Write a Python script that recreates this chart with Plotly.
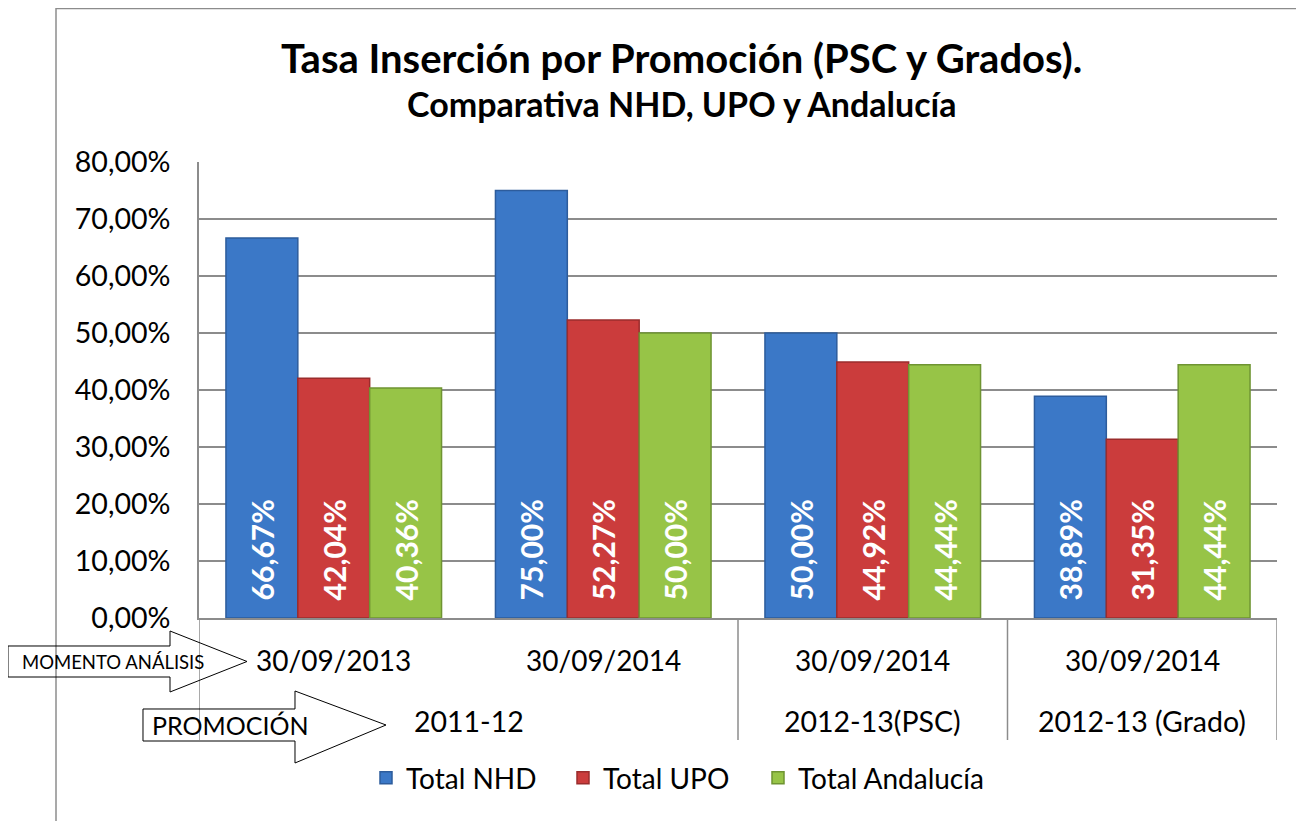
import plotly.graph_objects as go

# ---------------------------------------------------------------
# DATA
# ---------------------------------------------------------------
momento = ["30/09/2013", "30/09/2014", "30/09/2014", "30/09/2014"]
promocion = ["2011-12", "2012-13(PSC)", "2012-13 (Grado)"]
promocion_span = [(0, 1), (2, 2), (3, 3)]  # first/last category index

total_nhd = [0.6667, 0.7500, 0.5000, 0.3889]
total_upo = [0.4204, 0.5227, 0.4492, 0.3135]
total_andalucia = [0.4036, 0.5000, 0.4444, 0.4444]

series_names = ["Total NHD", "Total UPO", "Total Andalucía"]
series_colors = ["#3B78C7", "#CB3C3C", "#97C447"]
series_edges = ["#2D5C9C", "#9A2C2C", "#6F9432"]

# ---------------------------------------------------------------
# LAYOUT HELPERS
# page body has an 8px margin, so target pixels are shifted by 8
# ---------------------------------------------------------------
OFF = 8
W, H = 1304 - OFF, 821 - OFF
PL, PR, PT, PB = 199 - OFF, 1277 - OFF, 162 - OFF, 618 - OFF


def fx(x):
    # target page pixel -> paper x
    return (x - OFF - PL) / (PR - PL)


def fy(y):
    # target page pixel -> paper y
    return (PB - (y - OFF)) / (PB - PT)


FONT = "Lato, 'Open Sans', sans-serif"

cats = list(range(len(momento)))
legend_ids = ["legend", "legend2", "legend3"]
legend_left = [358, 555, 750]  # figure px of each legend box

fig = go.Figure()

for name, vals, col, edge, lg in zip(
    series_names,
    [total_nhd, total_upo, total_andalucia],
    series_colors,
    series_edges,
    legend_ids,
):
    fig.add_trace(
        go.Bar(
            x=cats,
            y=vals,
            name=name,
            legend=lg,
            marker=dict(color=col, line=dict(color=edge, width=1.5)),
            texttemplate="\u00a0\u00a0%{y:.2%}",
            textposition="inside",
            insidetextanchor="start",
            textangle=-90,
            constraintext="none",
            textfont=dict(family=FONT, size=30, color="white", weight="bold"),
        )
    )

# ---------------------------------------------------------------
# SHAPES: frame, separators, arrows
# ---------------------------------------------------------------
shapes = []
line_gray = dict(color="#8C8C8C", width=1.5)

# outer chart frame (left + top)
shapes.append(dict(type="line", xref="paper", yref="paper",
                   x0=fx(56), x1=fx(56), y0=fy(8), y1=fy(830), line=line_gray))
shapes.append(dict(type="line", xref="paper", yref="paper",
                   x0=fx(56), x1=fx(1310), y0=fy(8.5), y1=fy(8.5), line=line_gray))

# category separators under the axis
for xs in [-0.5, 1.5, 2.5, 3.5]:
    shapes.append(dict(type="line", xref="x", yref="paper",
                       x0=xs, x1=xs, y0=0, y1=fy(740), line=line_gray))


def arrow_path(x0, y0, y1, xb, yh0, yh1, xt):
    yt = (y0 + y1) / 2
    pts = [(x0, y0), (xb, y0), (xb, yh0), (xt, yt), (xb, yh1), (xb, y1), (x0, y1)]
    return "M " + " L ".join(f"{fx(a):.5f},{fy(b):.5f}" for a, b in pts) + " Z"


shapes.append(dict(type="path", xref="paper", yref="paper",
                   path=arrow_path(8, 646, 677, 170, 631, 692, 247),
                   line=dict(color="black", width=1), fillcolor="rgba(0,0,0,0)"))
shapes.append(dict(type="path", xref="paper", yref="paper",
                   path=arrow_path(143, 709, 741, 295, 691, 763, 386),
                   line=dict(color="black", width=1), fillcolor="rgba(0,0,0,0)"))

# ---------------------------------------------------------------
# ANNOTATIONS: axis labels (two levels), arrow texts, titles
# ---------------------------------------------------------------
annotations = []
for i, lab in enumerate(momento):
    annotations.append(dict(x=i, y=fy(660), xref="x", yref="paper", text=lab,
                            showarrow=False, xanchor="center", yanchor="middle",
                            font=dict(family=FONT, size=28, color="black")))
for lab, (a, b) in zip(promocion, promocion_span):
    annotations.append(dict(x=(a + b) / 2, y=fy(721), xref="x", yref="paper",
                            text=lab, showarrow=False, xanchor="center",
                            yanchor="middle",
                            font=dict(family=FONT, size=28.5, color="black")))

annotations.append(dict(x=fx(113), y=fy(662), xref="paper", yref="paper",
                        text="MOMENTO ANÁLISIS", showarrow=False,
                        xanchor="center", yanchor="middle",
                        font=dict(family=FONT, size=18.5, color="black")))
annotations.append(dict(x=fx(230), y=fy(725), xref="paper", yref="paper",
                        text="PROMOCIÓN", showarrow=False,
                        xanchor="center", yanchor="middle",
                        font=dict(family=FONT, size=25, color="black")))

annotations.append(dict(x=fx(681), y=fy(103), xref="paper", yref="paper",
                        text="<b>Comparativa NHD, UPO y Andalucía</b>",
                        showarrow=False, xanchor="center", yanchor="middle",
                        font=dict(family=FONT, size=34, color="black")))
annotations.append(dict(x=fx(681), y=fy(58), xref="paper", yref="paper",
                        text="<b>Tasa Inserción por Promoción (PSC y Grados).</b>",
                        showarrow=False, xanchor="center", yanchor="middle",
                        font=dict(family=FONT, size=40, color="black")))

legend_layout = {}
for lg, left in zip(legend_ids, legend_left):
    legend_layout[lg] = dict(
        orientation="h",
        x=left / W,
        xref="container",
        xanchor="left",
        y=1 - (778 - OFF) / H,
        yref="container",
        yanchor="middle",
        font=dict(family=FONT, size=28, color="black"),
        itemwidth=30,
        bgcolor="rgba(0,0,0,0)",
    )

fig.update_layout(
    width=W,
    height=H,
    margin=dict(l=PL, r=W - PR, t=PT, b=H - PB),
    paper_bgcolor="white",
    plot_bgcolor="white",
    separators=",.",
    barmode="group",
    bargap=0.2,
    bargroupgap=0,
    font=dict(family=FONT, color="black"),
    xaxis=dict(
        range=[-0.5, 3.5],
        showticklabels=False,
        showgrid=False,
        zeroline=False,
        showline=True,
        linecolor="#8C8C8C",
        linewidth=1.5,
        fixedrange=True,
    ),
    yaxis=dict(
        range=[0, 0.8],
        dtick=0.1,
        tickformat=".2%",
        showgrid=True,
        gridcolor="#8C8C8C",
        gridwidth=1.5,
        zeroline=False,
        showline=True,
        linecolor="#8C8C8C",
        linewidth=1.5,
        ticklabelstandoff=21,
        tickfont=dict(family=FONT, size=28.6, color="black"),
    ),
    shapes=shapes,
    annotations=annotations,
    showlegend=True,
    **legend_layout,
)

fig.write_html("out.html")
